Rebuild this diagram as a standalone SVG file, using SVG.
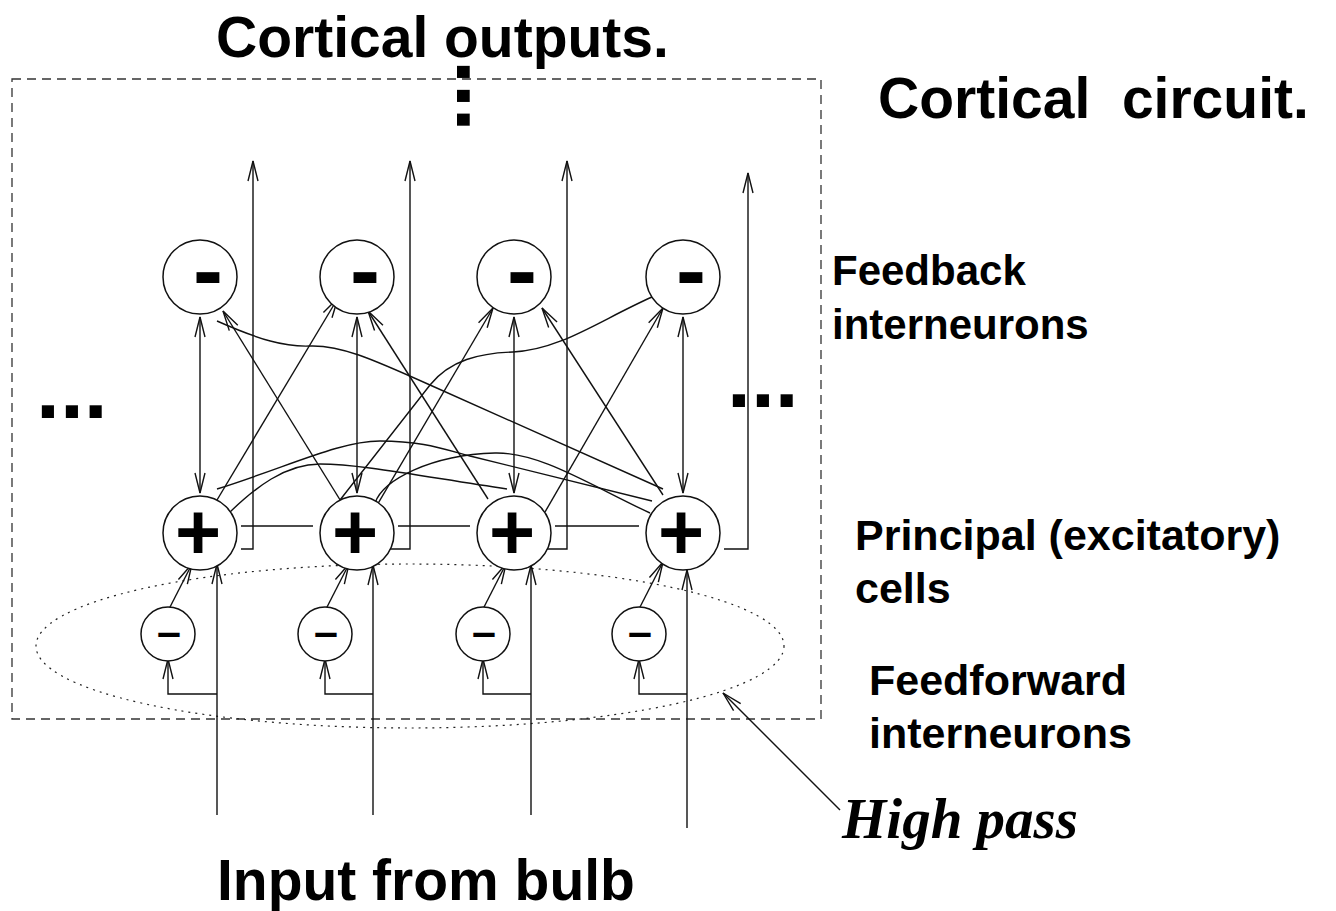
<svg xmlns="http://www.w3.org/2000/svg" width="1336" height="911" viewBox="0 0 1336 911">
<style>
.ln{fill:none;stroke:#111;stroke-width:1.4}
.arr{marker-end:url(#ah)}
.dbl{marker-end:url(#ah);marker-start:url(#ahs)}
.cell{fill:#fff;stroke:#111;stroke-width:1.5}
.lbl{font-family:"Liberation Sans",Arial,sans-serif;font-weight:bold;fill:#000}
.big{font-size:57px}
.mid{font-size:42px}
.plus{font-family:"Liberation Sans",Arial,sans-serif;font-weight:bold;font-size:79px;text-anchor:middle}
.minus{font-family:"Liberation Sans",Arial,sans-serif;font-weight:bold;font-size:90px}
.sminus{font-family:"Liberation Sans",Arial,sans-serif;font-weight:bold;font-size:43px;text-anchor:middle}
.dots{font-family:"Liberation Sans",Arial,sans-serif;font-weight:bold;font-size:86px}
</style>
<defs>
<marker id="ah" viewBox="0 0 20 10" refX="20" refY="5" markerWidth="20" markerHeight="10" markerUnits="userSpaceOnUse" orient="auto" overflow="visible">
<path d="M0,0 L20,5 L0,10" fill="none" stroke="#111" stroke-width="1.4"/>
</marker>
<marker id="ahs" viewBox="0 0 20 10" refX="20" refY="5" markerWidth="20" markerHeight="10" markerUnits="userSpaceOnUse" orient="auto-start-reverse" overflow="visible">
<path d="M0,0 L20,5 L0,10" fill="none" stroke="#111" stroke-width="1.4"/>
</marker>
</defs>
<rect width="1336" height="911" fill="#fff"/>

<g id="frame">
<rect x="12" y="79" width="809" height="640" fill="none" stroke="#333" stroke-width="1.3" stroke-dasharray="9 6"/>
<ellipse cx="410" cy="646" rx="374" ry="82" fill="none" stroke="#222" stroke-width="1.2" stroke-dasharray="2 5"/>
</g>

<g id="connectors">
<polyline class="ln arr" points="241,549 253,549 253,161"/>
<polyline class="ln arr" points="386,549 410,549 410,161"/>
<polyline class="ln arr" points="543,549 567,549 567,161"/>
<polyline class="ln arr" points="724,549 748,549 748,173"/>
<line class="ln" x1="241" y1="526" x2="313" y2="526"/>
<line class="ln" x1="398" y1="526" x2="470" y2="526"/>
<line class="ln" x1="555" y1="526" x2="639" y2="526"/>
<line class="ln dbl" x1="200" y1="493" x2="200" y2="317"/>
<line class="ln dbl" x1="357" y1="493" x2="357" y2="317"/>
<line class="ln dbl" x1="514" y1="493" x2="514" y2="317"/>
<line class="ln dbl" x1="683" y1="493" x2="683" y2="317"/>
<line class="ln arr" x1="217" y1="500" x2="338" y2="298"/>
<line class="ln arr" x1="342" y1="503" x2="223" y2="311"/>
<line class="ln arr" x1="373" y1="512" x2="493" y2="308"/>
<line class="ln arr" x1="488" y1="499" x2="368" y2="311"/>
<line class="ln arr" x1="545" y1="512" x2="663" y2="308"/>
<line class="ln arr" x1="663" y1="495" x2="542" y2="308"/>
<path class="ln" d="M217,321 C260,340 285,347 310,346 C340,345 370,358 430,385 L663,489"/>
<path class="ln" d="M217,489 C290,466 340,441 380,441 C420,441 440,448 470,456 L652,501"/>
<path class="ln" d="M230,512 C255,488 285,464 320,464 C360,464 420,476 507,489"/>
<path class="ln" d="M375,503 C383,480 430,455 495,453 C540,452 590,485 650,513"/>
<path class="ln" d="M340,500 L430,385 C450,360 480,353 513,352 C560,350 600,320 652,297"/>
<line class="ln arr" x1="217" y1="815" x2="217" y2="564"/>
<line class="ln arr" x1="373" y1="815" x2="373" y2="565"/>
<line class="ln arr" x1="531" y1="815" x2="531" y2="565"/>
<line class="ln arr" x1="687" y1="828" x2="687" y2="570"/>
<polyline class="ln arr" points="217,694 168,694 168,659"/>
<polyline class="ln arr" points="373,694 325,694 325,659"/>
<polyline class="ln arr" points="531,694 483,694 483,659"/>
<polyline class="ln arr" points="687,694 639,694 639,659"/>
<line class="ln arr" x1="169" y1="609" x2="192" y2="564"/>
<line class="ln arr" x1="326" y1="609" x2="349" y2="564"/>
<line class="ln arr" x1="483" y1="609" x2="506" y2="564"/>
<line class="ln arr" x1="639" y1="609" x2="663" y2="562"/>
<line class="ln arr" x1="840" y1="810" x2="723" y2="693"/>
</g>

<g id="fb1"><circle class="cell" cx="200" cy="277" r="37"/><text class="minus" x="193" y="301">-</text></g>
<g id="fb2"><circle class="cell" cx="357" cy="277" r="37"/><text class="minus" x="350" y="301">-</text></g>
<g id="fb3"><circle class="cell" cx="514" cy="277" r="37"/><text class="minus" x="507" y="301">-</text></g>
<g id="fb4"><circle class="cell" cx="683" cy="277" r="37"/><text class="minus" x="676" y="301">-</text></g>

<g id="pc1"><circle class="cell" cx="200" cy="533" r="37"/><text class="plus" x="198" y="559">+</text></g>
<g id="pc2"><circle class="cell" cx="357" cy="533" r="37"/><text class="plus" x="355" y="559">+</text></g>
<g id="pc3"><circle class="cell" cx="514" cy="533" r="37"/><text class="plus" x="512" y="559">+</text></g>
<g id="pc4"><circle class="cell" cx="683" cy="533" r="37"/><text class="plus" x="681" y="559">+</text></g>

<g id="ff1"><circle class="cell" cx="168" cy="634" r="27"/><text class="sminus" x="169" y="646">–</text></g>
<g id="ff2"><circle class="cell" cx="325" cy="634" r="27"/><text class="sminus" x="326" y="646">–</text></g>
<g id="ff3"><circle class="cell" cx="483" cy="634" r="27"/><text class="sminus" x="484" y="646">–</text></g>
<g id="ff4"><circle class="cell" cx="639" cy="634" r="27"/><text class="sminus" x="640" y="646">–</text></g>

<g id="labels">
<text class="lbl big" x="216" y="57">Cortical outputs.</text>
<text class="lbl big" x="878" y="118" style="white-space:pre">Cortical  circuit.</text>
<text class="lbl mid" x="832" y="285">Feedback</text>
<text class="lbl mid" x="832" y="339">interneurons</text>
<text class="lbl" style="font-size:43px" x="855" y="550">Principal (excitatory)</text>
<text class="lbl" style="font-size:43px" x="855" y="603">cells</text>
<text class="lbl" style="font-size:43px" x="869" y="695">Feedforward</text>
<text class="lbl" style="font-size:43px" x="869" y="748">interneurons</text>
<text x="842" y="838" style="font-family:'Liberation Serif','Times New Roman',serif;font-style:italic;font-weight:bold;font-size:57px">High pass</text>
<text class="lbl big" x="217" y="900">Input from bulb</text>
<text class="dots" x="36" y="418">...</text>
<text class="dots" x="727" y="407">...</text>
<text class="dots" transform="translate(457,60) rotate(90)" x="0" y="0">...</text>
</g>
</svg>
